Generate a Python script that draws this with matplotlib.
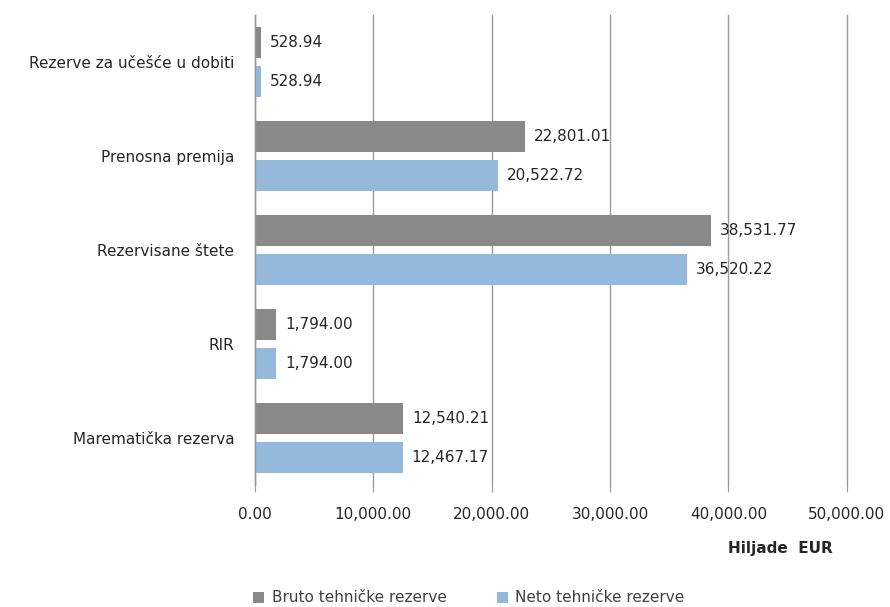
import matplotlib
matplotlib.use("Agg")
import matplotlib.pyplot as plt
import numpy as np

plt.rcParams['font.family'] = ['DejaVu Sans']

categories = ["Rezerve za učešće u dobiti", "Prenosna premija", "Rezervisane štete",
              "RIR", "Marematička rezerva"]
bruto = [528.94, 22801.01, 38531.77, 1794.00, 12540.21]
neto = [528.94, 20522.72, 36520.22, 1794.00, 12467.17]
series_names = ["Bruto tehničke rezerve", "Neto tehničke rezerve"]
colors = ["#898989", "#95b9dc"]
txt = "#262626"
fs = 11

fig = plt.figure(figsize=(8.9, 6.07), dpi=100)
ax = fig.add_axes([0.2865, 0.201, 0.665, 0.774])

y = np.arange(len(categories))
h = 0.33
off = 0.2075
b1 = ax.barh(y - off, bruto, height=h, color=colors[0], label=series_names[0], zorder=3)
b2 = ax.barh(y + off, neto, height=h, color=colors[1], label=series_names[1], zorder=3)

for bars, vals in ((b1, bruto), (b2, neto)):
    for bar, v in zip(bars, vals):
        ax.text(v + 750, bar.get_y() + bar.get_height() / 2, f"{v:,.2f}",
                va="center", ha="left", fontsize=fs, color=txt)

ax.set_ylim(len(categories) - 0.5, -0.5)
ax.set_xlim(0, 50000)
ax.set_yticks(y)
ax.set_yticklabels(categories, fontsize=fs, color=txt)
ax.set_xticks(np.arange(0, 50001, 10000))
ax.set_xticklabels([f"{v:,.2f}" for v in range(0, 50001, 10000)], fontsize=fs, color=txt)
ax.tick_params(axis="y", length=0, pad=15)
ax.tick_params(axis="x", length=5, color="#9a9a9a", pad=11)
ax.grid(axis="x", color="#9a9a9a", linewidth=1.0, zorder=0)
for gl in ax.get_xgridlines():
    gl.set_clip_on(False)
for s in ("top", "right", "bottom"):
    ax.spines[s].set_visible(False)
ax.spines["left"].set_color("#9a9a9a")
ax.spines["left"].set_linewidth(1.0)
ax.spines["left"].set_zorder(4)

fig.text(780 / 890, 1 - 548 / 607, "Hiljade  EUR", fontsize=fs, fontweight="bold",
         ha="center", va="center", color=txt)

leg = fig.legend(handles=[b1, b2], labels=series_names, loc="center", ncol=2,
                 bbox_to_anchor=(469 / 890, 1 - 598 / 607), frameon=False, fontsize=fs,
                 handlelength=0.7, handleheight=0.7, columnspacing=3.3, handletextpad=0.5)
for t in leg.get_texts():
    t.set_color("#404040")

fig.savefig("out.png", dpi=100, facecolor="white")
